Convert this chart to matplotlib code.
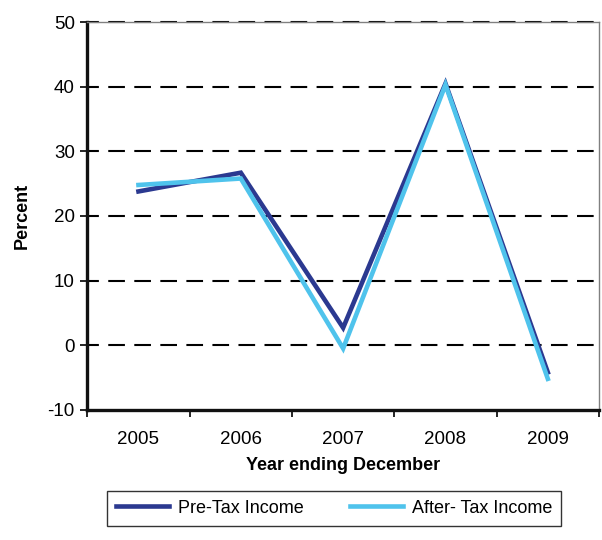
import matplotlib.pyplot as plt
from matplotlib.ticker import FixedLocator, NullFormatter

plt.rcParams["font.family"] = ["Liberation Sans", "DejaVu Sans"]
plt.rcParams["axes.unicode_minus"] = False

years = ["2005", "2006", "2007", "2008", "2009"]
pre_tax = [23.8, 26.7, 2.7, 40.5, -4.2]
after_tax = [24.8, 25.8, -0.5, 40.3, -5.2]
y_ticks = [-10, 0, 10, 20, 30, 40, 50]

PRE_COLOR = "#2B3990"
AFTER_COLOR = "#4FC3EC"

fig = plt.figure(figsize=(6.02, 5.40), dpi=100)
ax = fig.add_axes([0.145, 0.241, 0.85, 0.718])

x = list(range(len(years)))

# dashed horizontal guides at each major percent level
for y in y_ticks[1:]:
    ax.axhline(y, color="black", lw=1.5, ls=(2.3, (8.0, 4.5)), zorder=2.5, clip_on=False)

ax.plot(x, pre_tax, color=PRE_COLOR, lw=3.3, label="Pre-Tax Income",
        solid_joinstyle="miter", zorder=3)
ax.plot(x, after_tax, color=AFTER_COLOR, lw=3.3, label="After- Tax Income",
        solid_joinstyle="miter", zorder=4)

ax.set_xlim(-0.5, len(years) - 0.5)
ax.set_ylim(-10, 50)
ax.set_yticks(y_ticks)
ax.tick_params(axis="y", labelsize=13.5, length=5, width=1.2, direction="out", pad=4)

# category labels centred, tick marks on the boundaries
ax.set_xticks(x)
ax.set_xticklabels(years)
ax.xaxis.set_minor_locator(FixedLocator([i - 0.5 for i in range(len(years) + 1)]))
ax.xaxis.set_minor_formatter(NullFormatter())
ax.tick_params(axis="x", which="major", length=0, labelsize=13.5, pad=15)
ax.tick_params(axis="x", which="minor", length=5, width=1.2, direction="out")

for side in ("left", "bottom"):
    ax.spines[side].set_linewidth(2.4)
    ax.spines[side].set_color("#111111")
for side in ("top", "right"):
    ax.spines[side].set_linewidth(1.0)
    ax.spines[side].set_color("#808080")

ax.set_xlabel("Year ending December", fontsize=13, fontweight="bold", labelpad=7)
ax.set_ylabel("Percent", fontsize=13, fontweight="bold", labelpad=12)

leg = fig.legend(loc="center", bbox_to_anchor=(0.555, 0.059), ncol=2, fontsize=13,
                 frameon=True, fancybox=False, edgecolor="black", handlelength=2.9,
                 columnspacing=2.6, handletextpad=0.5, borderpad=0.5)
leg.get_frame().set_linewidth(1.0)

fig.savefig("out.png", dpi=100)
